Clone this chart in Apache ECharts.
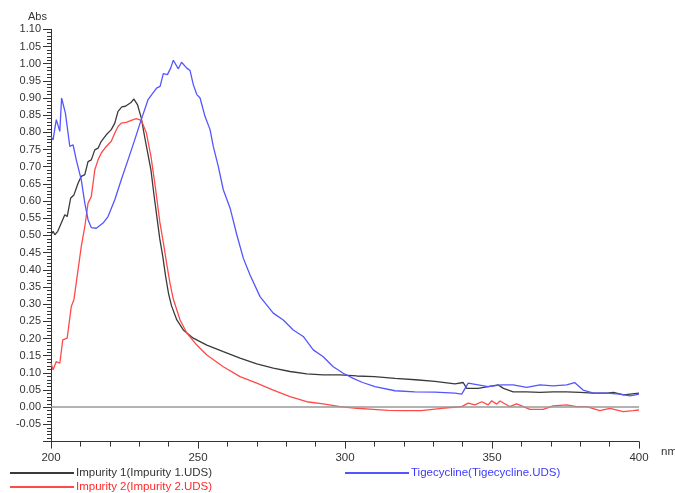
<!DOCTYPE html>
<html>
<head>
<meta charset="utf-8">
<script src="https://cdn.jsdelivr.net/npm/echarts@6/dist/echarts.min.js"></script>
<style>
html,body{margin:0;padding:0;background:#fff;}
#chart{width:675px;height:493px;}
</style>
</head>
<body>
<div id="chart"></div>
<script>
// ---- data (wavelength in nm, absorbance) ----
var imp1Wl = [200,200.7,201.3,202.3,203.5,204.7,205.5,206.7,207.8,209.2,210.3,211.5,212.6,213.7,214.9,216,217.1,218.8,220.5,221.7,222.8,224.1,225.3,226.2,227.1,228.2,229.4,230.7,232,233,234,235,236,237,238,239,240,241,242.8,245,248.4,253,258.6,264.3,270,275.6,281.3,287,292.6,298.3,304,310,317,324,330.6,337.4,340.2,341.4,345.3,348.7,352.1,353.9,357.2,361.8,366.3,370.8,375.4,379.9,384.5,389,391.3,394.7,400];
var imp1Abs = [0.502,0.512,0.502,0.512,0.536,0.56,0.555,0.609,0.618,0.652,0.672,0.677,0.715,0.72,0.749,0.754,0.774,0.793,0.808,0.827,0.861,0.874,0.876,0.881,0.886,0.897,0.881,0.842,0.78,0.735,0.69,0.62,0.555,0.49,0.44,0.38,0.33,0.295,0.254,0.225,0.201,0.181,0.162,0.143,0.126,0.114,0.104,0.097,0.094,0.094,0.091,0.089,0.084,0.08,0.075,0.068,0.072,0.055,0.055,0.06,0.065,0.055,0.045,0.045,0.043,0.045,0.045,0.043,0.041,0.041,0.043,0.036,0.041];

var imp2Wl = [200,200.7,201.8,203,204,205.5,206.9,207.8,209.2,210.3,211.5,212.6,213.7,214.9,216,217.1,218.8,220.5,221.7,222.8,223.9,225.6,227.3,229,230.7,232.4,234,235.5,237,238.2,239.4,240.5,241.6,243.9,246.2,249.6,253,258.6,264.3,270,275.6,281.3,287,292.6,298.3,304,309.6,314.7,320,326,332.9,339.7,341.9,344.2,346.5,348.7,349.9,351.6,352.7,356,358.4,362.9,367.4,370.8,375.4,378.8,382.2,386.7,390.1,394.7,398,400];
var imp2Abs = [0.128,0.109,0.133,0.128,0.196,0.201,0.293,0.313,0.4,0.468,0.526,0.594,0.613,0.691,0.72,0.74,0.759,0.774,0.798,0.817,0.827,0.829,0.835,0.84,0.835,0.80,0.73,0.64,0.54,0.48,0.415,0.36,0.315,0.254,0.216,0.181,0.152,0.118,0.089,0.07,0.05,0.031,0.016,0.01,0.002,-0.003,-0.006,-0.009,-0.01,-0.01,-0.003,0.002,0.012,0.007,0.016,0.007,0.019,0.009,0.018,0.002,0.01,-0.006,-0.006,0.004,0.007,0.002,0.002,-0.01,-0.003,-0.013,-0.01,-0.008];

var tigeWl = [200,200.7,201.8,203,203.6,204.9,206.4,207.5,208.6,210.3,211.5,212.6,213.7,215.4,217.7,219.4,221.7,223.9,226.2,228.5,230.7,233,235.9,237.1,238.2,239.6,240.7,241.6,243.3,244.4,246.2,247.3,248.4,249.6,250.7,252.4,254.1,255.2,256.9,258.6,260.9,263.2,265.4,267.7,271.1,275.6,279,282.4,285.8,289.2,292.6,296,299.4,302.8,306,310.2,317,323.8,330.6,337.4,339.7,341.9,345.3,348.7,353.3,357.2,361.8,366.3,370.8,375.4,378.1,381,384.5,389,393.5,397,400];
var tigeAbs = [0.788,0.778,0.837,0.803,0.90,0.856,0.759,0.764,0.72,0.662,0.594,0.546,0.523,0.521,0.536,0.555,0.604,0.662,0.72,0.779,0.837,0.895,0.929,0.934,0.971,0.968,0.987,1.01,0.985,1.004,0.987,0.98,0.939,0.91,0.90,0.846,0.808,0.759,0.701,0.633,0.58,0.502,0.434,0.385,0.322,0.274,0.254,0.225,0.206,0.167,0.147,0.118,0.099,0.084,0.072,0.06,0.048,0.045,0.044,0.041,0.038,0.07,0.065,0.06,0.065,0.065,0.058,0.065,0.062,0.065,0.072,0.05,0.041,0.041,0.038,0.033,0.038];

var seriesNames = ['Impurity 1(Impurity 1.UDS)','Impurity 2(Impurity 2.UDS)','Tigecycline(Tigecycline.UDS)'];
var seriesColors = ['#3a3a3a','#ff4a4a','#5555ff'];
var legendTextColors = ['#333333','#ff2a2a','#3a3aff'];

function pairs(xs, ys){ return xs.map(function(x,i){ return [x, ys[i]]; }); }

var chart = echarts.init(document.getElementById('chart'), null, {renderer:'canvas'});
var FONT = 'Liberation Sans, Arial, sans-serif';

function mkLegend(i, left, top){
  return {
    show: true, left: left, top: top, orient: 'horizontal',
    itemWidth: 64, itemHeight: 2, itemGap: 2, padding: 0,
    icon: 'rect', selectedMode: false,
    data: [{name: seriesNames[i], textStyle: {color: legendTextColors[i]}}],
    textStyle: {fontFamily: FONT, fontSize: 11.5, color: legendTextColors[i], padding: [0,0,0,-3]}
  };
}

var option = {
  backgroundColor: '#ffffff',
  animation: false,
  grid: {left: 51, right: 36, top: 29.3, bottom: 51.4, containLabel: false},
  legend: [mkLegend(0, 10, 467), mkLegend(1, 10, 481), mkLegend(2, 345, 467)],
  xAxis: {
    type: 'value', min: 200, max: 400, interval: 50,
    axisLine: {show: true, onZero: false, lineStyle: {color: '#333', width: 1}},
    axisTick: {show: true, length: 7, lineStyle: {color: '#333'}},
    minorTick: {show: true, splitNumber: 5, length: 5, lineStyle: {color: '#333'}},
    splitLine: {show: false},
    axisLabel: {fontFamily: FONT, fontSize: 11.5, color: '#333', margin: 10}
  },
  yAxis: {
    type: 'value', min: -0.1, max: 1.1, interval: 0.05,
    axisLine: {show: true, onZero: false, lineStyle: {color: '#333', width: 1}},
    axisTick: {show: true, length: 8, lineStyle: {color: '#333'}},
    minorTick: {show: true, splitNumber: 5, length: 4, lineStyle: {color: '#333'}},
    splitLine: {show: false},
    axisLabel: {
      fontFamily: FONT, fontSize: 11, color: '#333', margin: 10,
      formatter: function(v){ return v < -0.075 ? '' : v.toFixed(2); }
    }
  },
  graphic: [
    {type: 'text', left: 28, top: 11, style: {text: 'Abs', font: '11px ' + FONT, fill: '#333'}},
    {type: 'text', left: 661, top: 446, style: {text: 'nm', font: '11.5px ' + FONT, fill: '#333'}}
  ],
  series: [
    {
      name: seriesNames[0], type: 'line', data: pairs(imp1Wl, imp1Abs),
      showSymbol: false, symbol: 'none', lineStyle: {color: seriesColors[0], width: 1.3}, itemStyle: {color: seriesColors[0]},
      z: 3,
      markLine: {
        silent: true, symbol: 'none', label: {show: false},
        lineStyle: {color: '#999999', width: 1.6, type: 'solid'},
        data: [{yAxis: 0}]
      }
    },
    {
      name: seriesNames[1], type: 'line', data: pairs(imp2Wl, imp2Abs),
      showSymbol: false, symbol: 'none', lineStyle: {color: seriesColors[1], width: 1.3}, itemStyle: {color: seriesColors[1]},
      z: 3
    },
    {
      name: seriesNames[2], type: 'line', data: pairs(tigeWl, tigeAbs),
      showSymbol: false, symbol: 'none', lineStyle: {color: seriesColors[2], width: 1.3}, itemStyle: {color: seriesColors[2]},
      z: 3
    }
  ]
};
chart.setOption(option);
</script>
</body>
</html>
